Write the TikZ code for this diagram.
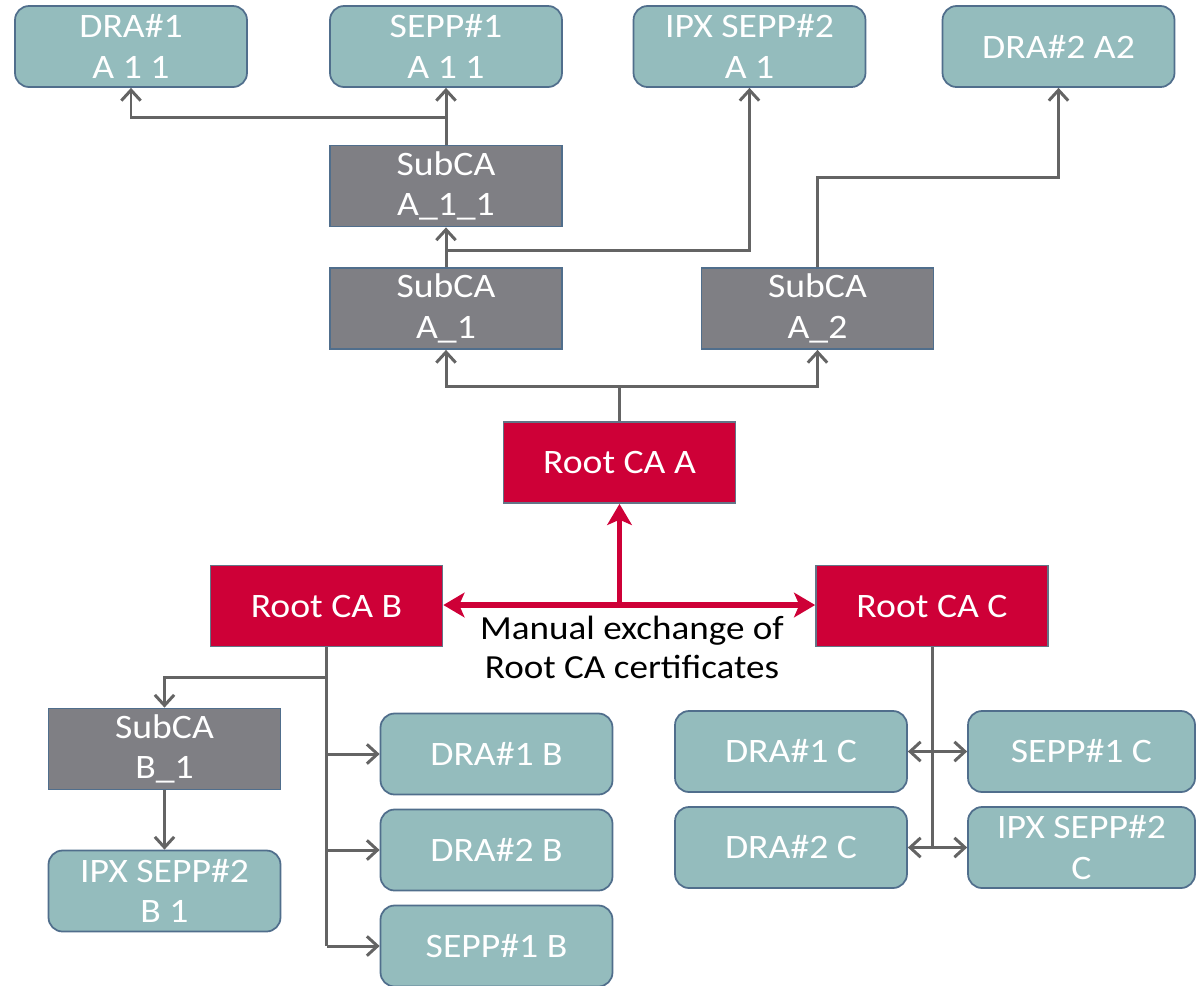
\documentclass[tikz,border=0pt]{standalone}
\usepackage{fontspec}
\setmainfont{Carlito}[FakeStretch=1.1]
\usetikzlibrary{arrows.meta}

\definecolor{leafteal}{RGB}{148,188,189}
\definecolor{boxedge}{RGB}{80,110,140}
\definecolor{subgray}{RGB}{127,127,132}
\definecolor{rootred}{RGB}{206,0,55}
\definecolor{wiregray}{RGB}{100,100,100}

\begin{document}
\begin{tikzpicture}[x=0.02cm,y=-0.02cm,
  box/.style={minimum width=4.64cm,minimum height=1.62cm,inner sep=0pt,align=center,
    text=white,font=\fontsize{19.5}{23.2}\selectfont,line width=1pt},
  leaf/.style={box,rounded corners=0.28cm,fill=leafteal,draw=boxedge},
  subca/.style={box,fill=subgray,draw=boxedge},
  rootca/.style={box,fill=rootred,draw=boxedge!60!gray},
  wire/.style={draw=wiregray,line width=1.7pt},
  tip/.style={wire,-{Straight Barb[length=6pt,width=11pt]}},
  xchg/.style={draw=rootred,line width=3pt,-{Stealth[length=12pt,width=14pt,inset=3pt]}}]
  \useasboundingbox (0,0) rectangle (1196,985);

  % PKI of operator A
  \node[leaf] (dra1a) at (131,46.5) {DRA\#1\\A 1 1};
  \node[leaf] (sepp1a) at (446,46.5) {SEPP\#1\\A 1 1};
  \node[leaf] (ipxa) at (749.5,46.5) {IPX SEPP\#2\\A 1};
  \node[leaf] (dra2a) at (1058.5,46.5) {DRA\#2 A2};
  \node[subca] (subaa) at (446,186) {SubCA\\A\_1\_1};
  \node[subca] (suba1) at (446,308.5) {SubCA\\A\_1};
  \node[subca] (suba2) at (817.5,308.5) {SubCA\\A\_2};

  % the three roots
  \node[rootca] (roota) at (619.5,462.5) {Root CA A};
  \node[rootca] (rootb) at (326.5,606) {Root CA B};
  \node[rootca] (rootc) at (932,606) {Root CA C};
  \node[font=\fontsize{19.2}{22.2}\selectfont,align=center] (manual) at (632,647)
    {Manual exchange of\\Root CA certificates};

  % PKI of operator B
  \node[subca] (subb1) at (164.5,749) {SubCA\\B\_1};
  \node[leaf] (ipxb) at (164.5,891) {IPX SEPP\#2\\B 1};
  \node[leaf] (dra1b) at (496.5,754) {DRA\#1 B};
  \node[leaf] (dra2b) at (496.5,850) {DRA\#2 B};
  \node[leaf] (sepp1b) at (496.5,946) {SEPP\#1 B};

  % PKI of operator C
  \node[leaf] (dra1c) at (791,751.5) {DRA\#1 C};
  \node[leaf,minimum width=4.54cm] (sepp1c) at (1081.5,751.5) {SEPP\#1 C};
  \node[leaf] (dra2c) at (791,847.5) {DRA\#2 C};
  \node[leaf,minimum width=4.54cm] (ipxc) at (1081.5,847.5) {IPX SEPP\#2\\C};

  % tree below Root CA A
  \coordinate (ja) at (619.5,386);
  \coordinate (j1) at (446,250);
  \coordinate (j11) at (446,117);
  \coordinate (j2) at (817.5,177);
  \draw[wire] (roota.north) -- (ja);
  \draw[tip] (ja) -| (suba1.south);
  \draw[tip] (ja) -| (suba2.south);
  \draw[tip] (suba1.north) -- (subaa.south);
  \draw[tip] (j1) -| (ipxa.south);
  \draw[tip] (subaa.north) -- (sepp1a.south);
  \draw[tip] (j11) -| (dra1a.south);
  \draw[tip] (suba2.north) -- (j2) -| (dra2a.south);

  % manual exchange
  \coordinate (hub) at (roota.south |- 0,605);
  \draw[xchg] (hub) -- (roota.south);
  \draw[xchg] (hub) -- (rootb.east |- hub);
  \draw[xchg] (hub) -- (rootc.west |- hub);

  % tree below Root CA B
  \coordinate (jb) at (326.5,677);
  \draw[wire] (rootb.south) -- (rootb.south |- sepp1b);
  \draw[tip] (jb) -| (subb1.north);
  \draw[tip] (subb1.south) -- (ipxb.north);
  \draw[tip] (rootb.south |- dra1b) -- (dra1b.west);
  \draw[tip] (rootb.south |- dra2b) -- (dra2b.west);
  \draw[tip] (rootb.south |- sepp1b) -- (sepp1b.west);

  % tree below Root CA C
  \draw[wire] (rootc.south) -- (rootc.south |- dra2c);
  \draw[tip] (rootc.south |- dra1c) -- (dra1c.east);
  \draw[tip] (rootc.south |- dra1c) -- (sepp1c.west);
  \draw[tip] (rootc.south |- dra2c) -- (dra2c.east);
  \draw[tip] (rootc.south |- dra2c) -- (ipxc.west);
\end{tikzpicture}
\end{document}
